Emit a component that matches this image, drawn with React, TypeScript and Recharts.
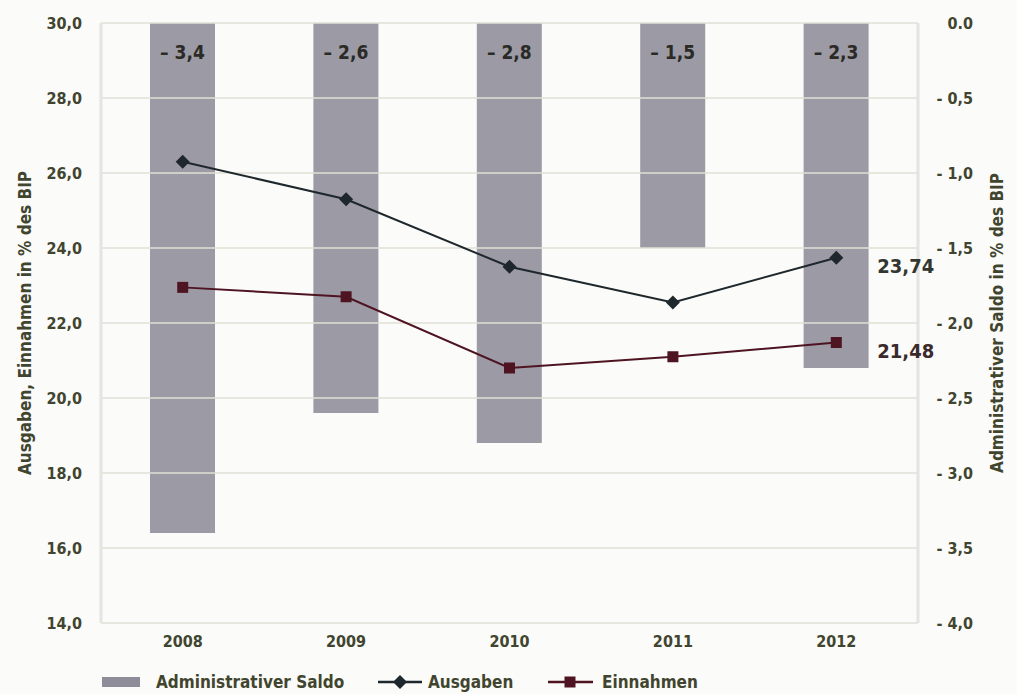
import {
  ComposedChart,
  Bar,
  Line,
  XAxis,
  YAxis,
  Legend,
  ReferenceLine,
  LabelList,
  Label,
} from "recharts";

const years = ["2008", "2009", "2010", "2011", "2012"];
const saldo = [-3.4, -2.6, -2.8, -1.5, -2.3];
const ausgaben = [26.3, 25.3, 23.5, 22.55, 23.74];
const einnahmen = [22.95, 22.7, 20.8, 21.1, 21.48];

const leftTicks = [14, 16, 18, 20, 22, 24, 26, 28, 30];
const rightTicks = [0, -0.5, -1, -1.5, -2, -2.5, -3, -3.5, -4];

const data = years.map((year, i) => ({
  year,
  saldo: saldo[i],
  ausgaben: ausgaben[i],
  einnahmen: einnahmen[i],
}));

const FONT = "'DejaVu Sans Condensed', 'DejaVu Sans', sans-serif";
const TEXT = "#41452f";
const BAR_COLOR = "#9c9aa4";
const AUSGABEN_COLOR = "#1e272b";
const EINNAHMEN_COLOR = "#4e1422";
const GRID = "#e0dfd6";

const comma = (v: number, digits = 1) => v.toFixed(digits).replace(".", ",");
const fmtLeft = (v: number) => comma(v);
const fmtRight = (v: number) => (v === 0 ? "0.0" : "- " + comma(Math.abs(v)));

function LeftTick({ x, y, payload }: any) {
  return (
    <text x={x} y={y} dy={6} textAnchor="end" fontFamily={FONT} fontWeight="bold" fontSize={16} fill={TEXT}>
      {fmtLeft(payload.value)}
    </text>
  );
}

function RightTick({ x, y, payload }: any) {
  return (
    <text x={x} y={y} dy={6} textAnchor="end" fontFamily={FONT} fontWeight="bold" fontSize={16} fill={TEXT}>
      {fmtRight(payload.value)}
    </text>
  );
}

function XTick({ x, y, payload }: any) {
  return (
    <text x={x} y={y} dy={24} textAnchor="middle" fontFamily={FONT} fontWeight="bold" fontSize={16} fill={TEXT}>
      {payload.value}
    </text>
  );
}

function Diamond({ cx, cy, fill }: { cx?: number; cy?: number; fill: string }) {
  if (cx == null || cy == null) return null;
  const r = 7;
  return <polygon points={`${cx},${cy - r} ${cx + r},${cy} ${cx},${cy + r} ${cx - r},${cy}`} fill={fill} />;
}

function Square({ cx, cy, fill }: { cx?: number; cy?: number; fill: string }) {
  if (cx == null || cy == null) return null;
  const s = 11;
  return <rect x={cx - s / 2} y={cy - s / 2} width={s} height={s} fill={fill} />;
}

function BarValueLabel({ x, y, width, height, value }: any) {
  const top = Math.min(y, y + height);
  return (
    <text
      x={x + width / 2}
      y={top + 36}
      textAnchor="middle"
      fontFamily={FONT}
      fontWeight="bold"
      fontSize={19}
      fill="#2a2a26"
    >
      {"– " + comma(Math.abs(value))}
    </text>
  );
}

function endLabel(color: string) {
  return ({ x, y, index, value }: any) =>
    index === years.length - 1 ? (
      <text x={x + 41} y={y + 15} fontFamily={FONT} fontWeight="bold" fontSize={20} fill={color}>
        {comma(value, 2)}
      </text>
    ) : null;
}

function AxisTitle({ viewBox, text, dx }: any) {
  const cx = viewBox.x + dx;
  const cy = viewBox.y + viewBox.height / 2;
  return (
    <text
      x={cx}
      y={cy}
      transform={`rotate(-90, ${cx}, ${cy})`}
      textAnchor="middle"
      dominantBaseline="central"
      fontFamily={FONT}
      fontWeight="bold"
      fontSize={17}
      fill={TEXT}
    >
      {text}
    </text>
  );
}

function LegendContent() {
  const item = { position: "absolute" as const, top: 0, height: 24, display: "flex", alignItems: "center" };
  const label = { fontFamily: FONT, fontWeight: "bold" as const, fontSize: 17, color: TEXT };
  return (
    <div style={{ position: "relative", height: 24, width: 1017 }}>
      <div style={{ ...item, left: 102 }}>
        <svg width={38} height={10}>
          <rect x={0} y={0} width={38} height={10} fill="#8f8c9a" />
        </svg>
        <span style={{ ...label, marginLeft: 16 }}>Administrativer Saldo</span>
      </div>
      <div style={{ ...item, left: 378 }}>
        <svg width={44} height={16}>
          <line x1={0} y1={8} x2={44} y2={8} stroke={AUSGABEN_COLOR} strokeWidth={2.5} />
          <Diamond cx={22} cy={8} fill={AUSGABEN_COLOR} />
        </svg>
        <span style={{ ...label, marginLeft: 6 }}>Ausgaben</span>
      </div>
      <div style={{ ...item, left: 548 }}>
        <svg width={45} height={16}>
          <line x1={0} y1={8} x2={45} y2={8} stroke={EINNAHMEN_COLOR} strokeWidth={2.5} />
          <Square cx={22} cy={8} fill={EINNAHMEN_COLOR} />
        </svg>
        <span style={{ ...label, marginLeft: 9 }}>Einnahmen</span>
      </div>
    </div>
  );
}

export default function App() {
  return (
    <div style={{ position: "fixed", left: 0, top: 0, width: 1017, height: 694, background: "#fbfbf9" }}>
      <ComposedChart width={1017} height={694} data={data} margin={{ top: 23, right: 0, bottom: 0, left: 0 }}>
        <XAxis
          dataKey="year"
          height={47}
          axisLine={false}
          tickLine={false}
          tickSize={0}
          tickMargin={0}
          tick={<XTick />}
        />
        <YAxis
          yAxisId="left"
          orientation="left"
          width={101}
          domain={[14, 30]}
          ticks={leftTicks}
          interval={0}
          axisLine={{ stroke: "#e4e4e2", strokeWidth: 3 }}
          tickLine={false}
          tickSize={0}
          tickMargin={19}
          tick={<LeftTick />}
        >
          <Label content={(p: any) => <AxisTitle {...p} text="Ausgaben, Einnahmen in % des BIP" dx={25} />} />
        </YAxis>
        <YAxis
          yAxisId="right"
          orientation="right"
          width={99}
          domain={[-4, 0]}
          ticks={rightTicks}
          interval={0}
          axisLine={{ stroke: "#e4e4e2", strokeWidth: 3 }}
          tickLine={false}
          tickSize={0}
          tickMargin={55}
          tick={<RightTick />}
        >
          <Label content={(p: any) => <AxisTitle {...p} text="Administrativer Saldo in % des BIP" dx={79} />} />
        </YAxis>
        <Legend verticalAlign="bottom" content={<LegendContent />} />
        <Bar
          yAxisId="right"
          dataKey="saldo"
          name="Administrativer Saldo"
          fill={BAR_COLOR}
          barSize={65}
          isAnimationActive={false}
        >
          <LabelList dataKey="saldo" content={<BarValueLabel />} />
        </Bar>
        {leftTicks.map((t) => (
          <ReferenceLine key={t} yAxisId="left" y={t} stroke={GRID} strokeWidth={1.5} isFront />
        ))}
        <Line
          yAxisId="left"
          dataKey="ausgaben"
          name="Ausgaben"
          stroke={AUSGABEN_COLOR}
          strokeWidth={2}
          dot={(p: any) => <Diamond key={p.index} cx={p.cx} cy={p.cy} fill={AUSGABEN_COLOR} />}
          activeDot={false}
          isAnimationActive={false}
        >
          <LabelList dataKey="ausgaben" content={endLabel("#33352f")} />
        </Line>
        <Line
          yAxisId="left"
          dataKey="einnahmen"
          name="Einnahmen"
          stroke={EINNAHMEN_COLOR}
          strokeWidth={2}
          dot={(p: any) => <Square key={p.index} cx={p.cx} cy={p.cy} fill={EINNAHMEN_COLOR} />}
          activeDot={false}
          isAnimationActive={false}
        >
          <LabelList dataKey="einnahmen" content={endLabel("#3a2a2c")} />
        </Line>
      </ComposedChart>
    </div>
  );
}
